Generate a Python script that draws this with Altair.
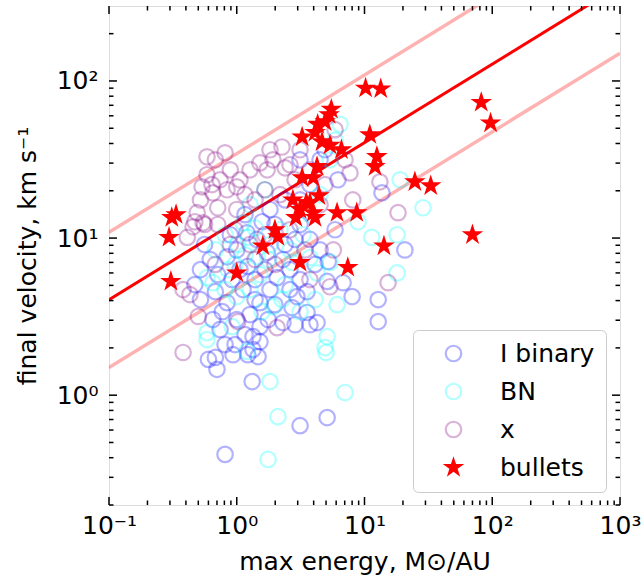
import altair as alt
import pandas as pd

# ---- data ----
bin_E = [0.81, 3.13, 5.1, 1.32, 0.60, 0.70, 0.68, 0.81, 0.935, 1.34,
         1.47, 1.52, 12.8, 12.8, 20.7, 13.7, 8.0, 6.8, 5.1, 3.55,
         2.96, 3.55, 4.25, 3.74, 2.71, 0.62, 0.71, 0.68, 0.84, 0.77,
         1.0, 1.27, 1.52, 1.52, 1.34, 1.82, 2.07, 2.30, 1.12, 1.22,
         1.0, 0.84, 1.73, 1.44, 1.20, 0.56, 0.52, 0.92, 1.39, 1.66,
         2.61, 2.39, 2.86, 1.99, 1.58, 1.16, 3.13, 3.74, 4.49, 4.10,
         3.13, 2.61, 1.99, 1.76, 1.16, 0.74, 0.65, 0.89, 1.06, 3.13,
         3.74, 4.49, 4.91, 3.13, 2.39, 1.82, 5.88, 5.2, 6.2, 1.39,
         2.30, 2.86, 0.97, 1.22, 0.52, 0.47]
bin_v = [0.42, 0.64, 0.72, 1.22, 1.69, 1.46, 1.74, 2.10, 1.81, 1.95,
         1.76, 2.19, 2.94, 4.06, 8.4, 19.4, 4.24, 5.2, 5.3, 4.56,
         4.24, 3.36, 2.90, 2.81, 3.61, 7.3, 5.85, 4.56, 3.88, 3.40,
         3.03, 3.26, 3.88, 2.73, 2.36, 4.70, 5.6, 7.3, 4.70, 6.6,
         8.4, 7.6, 8.1, 9.8, 10.8, 9.1, 6.3, 5.44, 5.44, 6.3,
         6.3, 9.1, 9.8, 12.2, 12.7, 14.1, 12.2, 9.8, 8.4, 6.8,
         5.44, 4.70, 3.77, 3.03, 2.43, 2.62, 3.03, 10.5, 6.3, 17.5,
         21.9, 31.5, 36.5, 31.5, 17.5, 15.2, 11.3, 7.1, 23.5, 4.06,
         2.90, 2.81, 2.10, 1.81, 4.06, 5.06]

bn_E = [1.76, 2.10, 7.04, 5.0, 1.82, 1.20, 0.585, 11.4, 18.0, 18.0,
        6.1, 5.1, 4.91, 5.37, 4.25, 3.74, 3.30, 2.71, 8.9, 19.0,
        28.7, 0.65, 0.585, 1.0, 0.92, 0.585, 1.22, 1.02, 0.855, 1.52,
        1.92, 1.12, 1.44, 2.18, 1.66, 1.27, 0.81, 0.68, 0.97, 1.16,
        1.82, 2.39, 2.61, 3.74, 4.49, 5.88, 5.37, 6.43, 4.10, 3.13,
        1.27, 0.81, 1.58, 2.26, 1.39, 1.76]
bn_v = [0.39, 0.73, 1.04, 1.87, 1.22, 1.90, 2.26, 10.1, 10.5, 6.0,
        3.77, 2.36, 2.01, 7.0, 6.0, 7.5, 10.5, 7.0, 12.7, 23.5,
        15.6, 5.2, 5.6, 4.24, 2.73, 2.50, 10.1, 9.1, 6.3, 5.85,
        3.66, 12.5, 7.6, 11.3, 20.3, 16.3, 10.5, 8.4, 6.8, 7.8,
        9.1, 5.06, 8.4, 14.1, 18.9, 42, 31.5, 53, 4.06, 3.40,
        4.70, 4.70, 3.40, 4.06, 11.6, 7.3]

x_E = [0.585, 0.68, 0.81, 0.89, 0.585, 0.535, 0.64, 0.74, 1.06, 0.65,
       0.84, 1.0, 1.52, 1.73, 2.26, 1.92, 2.39, 0.49, 0.71, 1.0,
       0.52, 1.16, 1.39, 1.66, 2.18, 2.61, 3.13, 0.56, 0.47, 0.41,
       0.455, 0.545, 0.71, 0.38, 0.43, 0.50, 0.38, 1.02, 2.07, 7.7,
       13.2, 8.1, 18.3, 15.3, 5.7, 5.88, 5.37, 3.74, 3.42, 1.66,
       1.27, 1.99, 4.49, 4.91, 0.89, 0.68, 2.86, 3.74, 7.04, 1.82,
       1.27, 0.97, 1.39, 2.61]
x_v = [32.9, 31.5, 34.9, 27.2, 25.3, 21.2, 21.9, 23.5, 23.5, 19.4,
       20.3, 21.2, 30.1, 27.2, 38, 31.5, 28.0, 14.5, 15.6, 15.2,
       17.5, 18.9, 17.5, 20.3, 18.9, 29.3, 36.5, 12.2, 12.7, 10.1,
       11.8, 12.5, 12.2, 4.70, 4.37, 3.17, 1.87, 2.94, 2.69, 26.0,
       22.8, 17.5, 14.5, 5.2, 8.4, 49, 4.9, 5.44, 8.4, 10.5,
       9.1, 6.8, 16.3, 21.9, 9.1, 6.8, 23.5, 27.2, 31.5, 36.5,
       27.2, 11.3, 7.3, 11.3]

bul_E = [0.31, 0.335, 0.295, 0.305, 1.0, 1.60, 1.99, 2.10, 3.13, 3.25,
         3.97, 3.25, 2.75, 3.74, 4.25, 4.10, 4.65, 5.37, 4.91, 5.28,
         4.3, 6.6, 11.0, 10.2, 13.4, 12.5, 12.1, 24.8, 33, 70,
         82, 97, 14.2, 7.4, 6.1, 8.7, 4.10, 2.9, 3.13, 3.5,
         3.97, 4.4, 5.5]
bul_v = [13.5, 14.1, 10.1, 5.3, 6.0, 8.9, 11.3, 10.2, 7.0, 24.2,
         24.2, 44, 17.5, 16.8, 28.5, 47, 41, 39, 55, 61,
         53, 36.5, 45.5, 90, 89, 33, 28.5, 22.8, 21.5, 10.5,
         73, 54, 8.9, 6.5, 14.5, 14.5, 13.5, 13.5, 15.2, 16.8,
         14.5, 18.6, 66]

groups = ["I binary", "BN", "x", "bullets"]

# reference lines (v proportional to sqrt(E)) and their +/- factor band
line_E = [0.1, 1000]
fit_v = [4.05, 405]
upper_v = [10.9, 1094]
lower_v = [1.5, 150]

# tick positions
x_major = [0.1, 1, 10, 100, 1000]
x_minor = [m * d for d in [0.1, 1, 10, 100] for m in range(2, 10)]
y_major = [1, 10, 100]
y_minor = [m * d for d in [0.1, 1, 10] for m in range(2, 10)] + [200]

# ---- build tables ----
rows = []
for name, E, v in [("I binary", bin_E, bin_v), ("BN", bn_E, bn_v),
                   ("x", x_E, x_v), ("bullets", bul_E, bul_v)]:
    for e, vv in zip(E, v):
        rows.append({"E": e, "v": vv, "group": name})
pts_df = pd.DataFrame(rows)
lines_df = pd.DataFrame({"E": line_E * 3,
                         "v": fit_v + upper_v + lower_v,
                         "kind": ["fit"] * 2 + ["upper"] * 2 + ["lower"] * 2})

W, H = 511, 499
FONT = "DejaVu Sans"
FS = 25
star = ("M0,-1L0.225,-0.309L0.951,-0.309L0.363,0.118L0.588,0.809L0,0.382"
        "L-0.588,0.809L-0.363,0.118L-0.951,-0.309L-0.225,-0.309Z")

xs = alt.Scale(type="log", domain=[0.1, 1000], nice=False)
ys = alt.Scale(type="log", domain=[0.2, 300], nice=False)

xlab = ("datum.value < 0.5 ? '10\u207b\u00b9' : datum.value < 5 ? '10\u2070' : "
        "datum.value < 50 ? '10\u00b9' : datum.value < 500 ? '10\u00b2' : '10\u00b3'")
ylab = ("datum.value < 5 ? '10\u2070' : datum.value < 50 ? '10\u00b9' : '10\u00b2'")

xaxis = alt.Axis(values=x_major, labelExpr=xlab, ticks=False, tickSize=0, domain=False,
                 grid=False, labelFontSize=FS, labelFont=FONT, labelColor="black",
                 labelPadding=8, labelFlush=False, labelOverlap=False,
                 title="max energy, M\u2299/AU", titleFontSize=FS, titleFont=FONT,
                 titleFontWeight="normal", titleColor="black", titlePadding=11)
yaxis = alt.Axis(values=y_major, labelExpr=ylab, ticks=False, tickSize=0, domain=False,
                 grid=False, labelFontSize=FS, labelFont=FONT, labelColor="black",
                 labelPadding=11, labelFlush=False, labelOverlap=False,
                 title="final velocity, km s\u207b\u00b9", titleFontSize=FS, titleFont=FONT,
                 titleFontWeight="normal", titleColor="black", titlePadding=16)

X = lambda f: alt.X(f, scale=xs, axis=xaxis)
Y = lambda f: alt.Y(f, scale=ys, axis=yaxis)

base_lines = alt.Chart(lines_df)
fit_line = base_lines.transform_filter("datum.kind == 'fit'").mark_line(
    color="#ff0000", strokeWidth=3, clip=True).encode(x=X("E:Q"), y=Y("v:Q"))
band_up = base_lines.transform_filter("datum.kind == 'upper'").mark_line(
    color="#ff0000", opacity=0.3, strokeWidth=3.5, clip=True).encode(x=X("E:Q"), y=Y("v:Q"))
band_lo = base_lines.transform_filter("datum.kind == 'lower'").mark_line(
    color="#ff0000", opacity=0.3, strokeWidth=3.5, clip=True).encode(x=X("E:Q"), y=Y("v:Q"))

legend = alt.Legend(title=None, orient="none", legendX=304, legendY=324,
                    padding=11, symbolOffset=17, labelOffset=34, rowPadding=12,
                    labelFontSize=FS, labelFont=FONT, labelColor="black",
                    symbolSize=240, symbolStrokeWidth=2.2,
                    fillColor="rgba(255,255,255,0.8)", strokeColor="#cccccc",
                    cornerRadius=5)

points = alt.Chart(pts_df).mark_point(size=240, strokeWidth=2.2, opacity=1, clip=True).encode(
    x=X("E:Q"),
    y=Y("v:Q"),
    stroke=alt.Stroke("group:N", scale=alt.Scale(domain=groups, range=[
        "rgba(0,0,255,0.3)", "rgba(0,255,255,0.3)", "rgba(128,0,128,0.3)", "#ff0000"]),
        legend=legend),
    fill=alt.Fill("group:N", scale=alt.Scale(domain=groups, range=[
        "rgba(0,0,0,0)", "rgba(0,0,0,0)", "rgba(0,0,0,0)", "#ff0000"]),
        legend=legend),
    shape=alt.Shape("group:N", scale=alt.Scale(domain=groups, range=[
        "circle", "circle", "circle", star]), legend=legend),
)

def tick_layer(vals, chan, length, side):
    df = pd.DataFrame({"t": vals})
    m = alt.Chart(df).mark_rule(color="black", strokeWidth=1.5)
    if chan == "x":
        if side == "bottom":
            return m.encode(x=X("t:Q"), y=alt.value(H), y2=alt.value(H - length))
        return m.encode(x=X("t:Q"), y=alt.value(0), y2=alt.value(length))
    if side == "left":
        return m.encode(y=Y("t:Q"), x=alt.value(0), x2=alt.value(length))
    return m.encode(y=Y("t:Q"), x=alt.value(W), x2=alt.value(W - length))

ticks = [tick_layer(x_major, "x", 8, "bottom"), tick_layer(x_major, "x", 8, "top"),
         tick_layer(x_minor, "x", 4.5, "bottom"), tick_layer(x_minor, "x", 4.5, "top"),
         tick_layer(y_major, "y", 8, "left"), tick_layer(y_major, "y", 8, "right"),
         tick_layer(y_minor, "y", 4.5, "left"), tick_layer(y_minor, "y", 4.5, "right")]

chart = alt.layer(fit_line, band_up, band_lo, points, *ticks).properties(
    width=W, height=H,
    autosize=alt.AutoSizeParams(type="none"),
    padding={"left": 109, "top": 6, "right": 24, "bottom": 74},
).configure_view(stroke="black", strokeWidth=2).configure(font=FONT)

chart.save("out.html", embed_options={"renderer": "svg", "actions": False})
